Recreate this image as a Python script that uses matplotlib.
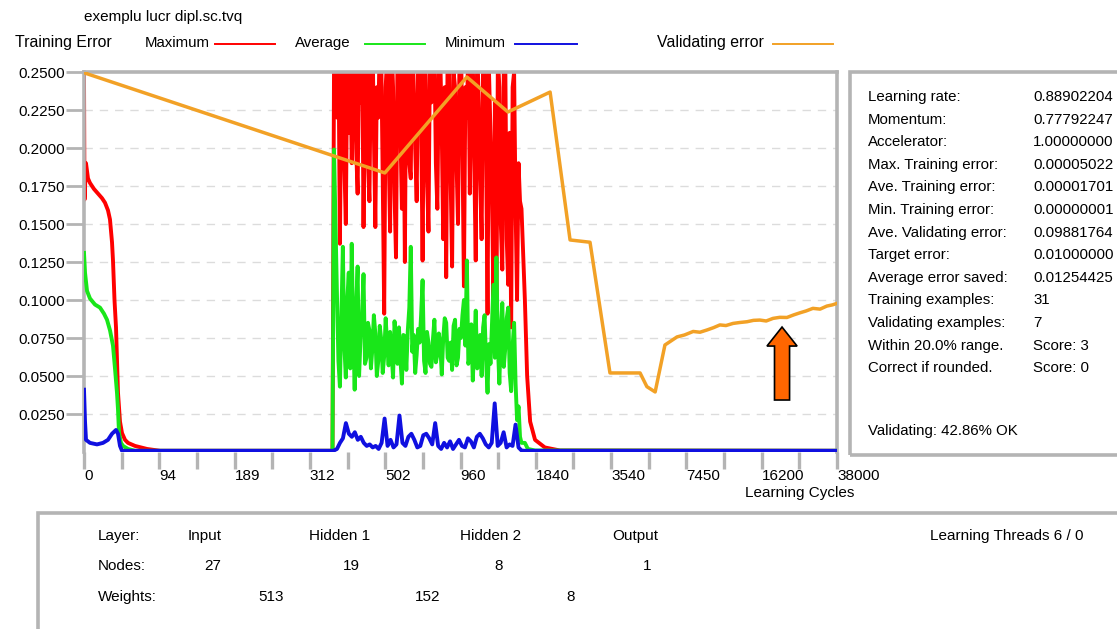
import numpy as np
import matplotlib
matplotlib.use("Agg")
import matplotlib.pyplot as plt
from matplotlib.lines import Line2D
from matplotlib.patches import Rectangle, FancyArrow

plt.rcParams['font.family'] = ['Liberation Sans', 'DejaVu Sans']

W, H = 1117, 629

# ---------------- data ----------------
x_tick_labels = ['0', '94', '189', '312', '502', '960', '1840', '3540', '7450', '16200', '38000']
y_tick_values = [0.025, 0.05, 0.075, 0.1, 0.125, 0.15, 0.175, 0.2, 0.225, 0.25]

# early phase (positions in axis tick units, 20 ticks across the axis)
max_early_x = [0, 0.013, 0.053, 0.08, 0.106, 0.159, 0.266, 0.372, 0.478, 0.558, 0.637, 0.69, 0.744, 0.77,
               0.81, 0.85, 0.876, 0.903, 0.956, 1.009, 1.089, 1.169, 1.355, 1.673, 2.02, 6.60]
max_early_y = [0.25, 0.166, 0.19, 0.185, 0.18, 0.177, 0.173, 0.170, 0.167, 0.164, 0.159, 0.153, 0.138, 0.126,
               0.10, 0.082, 0.06, 0.039, 0.02, 0.0125, 0.008, 0.006, 0.004, 0.002, 0.0008, 0.0008]
avg_early_x = [0, 0.027, 0.08, 0.159, 0.292, 0.425, 0.531, 0.611, 0.691, 0.77, 0.823, 0.876, 0.903, 0.93,
               0.983, 1.036, 1.169, 1.355, 6.60]
avg_early_y = [0.131, 0.118, 0.106, 0.101, 0.097, 0.095, 0.091, 0.087, 0.080, 0.070, 0.055, 0.039, 0.028,
               0.0125, 0.006, 0.004, 0.002, 0.0008, 0.0008]
min_early_x = [0, 0.027, 0.053, 0.159, 0.345, 0.505, 0.637, 0.744, 0.85, 0.903, 0.956, 1.009, 6.60]
min_early_y = [0.041, 0.02, 0.008, 0.006, 0.005, 0.006, 0.008, 0.012, 0.0145, 0.012, 0.004, 0.0008, 0.0008]

# unstable phase
max_noisy = [0.25, 0.28, 0.22, 0.27, 0.137, 0.24, 0.26, 0.19, 0.15, 0.26, 0.21, 0.27, 0.19, 0.24, 0.27, 0.20,
             0.17, 0.26, 0.23, 0.28, 0.148, 0.25, 0.27, 0.19, 0.165, 0.26, 0.28, 0.21, 0.148, 0.24, 0.22, 0.27,
             0.26, 0.18, 0.091, 0.24, 0.26, 0.20, 0.145, 0.27, 0.24, 0.17, 0.128, 0.26, 0.27, 0.21, 0.16, 0.25,
             0.125, 0.27, 0.26, 0.19, 0.18, 0.28, 0.24, 0.20, 0.165, 0.26, 0.27, 0.22, 0.126, 0.25, 0.25, 0.18,
             0.145, 0.26, 0.23, 0.27, 0.27, 0.19, 0.16, 0.25, 0.26, 0.21, 0.14, 0.24, 0.115, 0.27, 0.26, 0.18,
             0.122, 0.25, 0.24, 0.19, 0.15, 0.26, 0.27, 0.20, 0.109, 0.24, 0.22, 0.27, 0.17, 0.25, 0.26, 0.19,
             0.126, 0.27, 0.23, 0.18, 0.14, 0.26, 0.27, 0.20, 0.091, 0.25, 0.21, 0.17, 0.10, 0.23, 0.085, 0.26,
             0.24, 0.15, 0.12, 0.25, 0.26, 0.14, 0.11, 0.21, 0.082, 0.24, 0.25, 0.16, 0.10, 0.19, 0.165, 0.16]
avg_noisy = [0.199, 0.15, 0.104, 0.06, 0.043, 0.09, 0.135, 0.07, 0.049, 0.10, 0.118, 0.055, 0.137, 0.08,
             0.041, 0.095, 0.122, 0.05, 0.075, 0.09, 0.117, 0.058, 0.062, 0.085, 0.080, 0.055, 0.068, 0.090,
             0.078, 0.050, 0.060, 0.083, 0.074, 0.052, 0.063, 0.088, 0.071, 0.057, 0.079, 0.065, 0.049, 0.086,
             0.073, 0.058, 0.082, 0.061, 0.045, 0.077, 0.076, 0.054, 0.080, 0.095, 0.135, 0.066, 0.077, 0.052,
             0.064, 0.081, 0.072, 0.090, 0.113, 0.060, 0.052, 0.079, 0.072, 0.058, 0.056, 0.074, 0.087, 0.059,
             0.064, 0.078, 0.070, 0.051, 0.075, 0.088, 0.085, 0.062, 0.060, 0.072, 0.054, 0.083, 0.087, 0.057,
             0.062, 0.081, 0.075, 0.090, 0.100, 0.070, 0.126, 0.058, 0.063, 0.084, 0.047, 0.069, 0.093, 0.055,
             0.058, 0.077, 0.050, 0.082, 0.090, 0.060, 0.039, 0.071, 0.058, 0.085, 0.110, 0.062, 0.128, 0.070,
             0.045, 0.080, 0.098, 0.056, 0.068, 0.088, 0.095, 0.052, 0.040, 0.070, 0.085, 0.045, 0.021, 0.030,
             0.010, 0.006]
min_noisy = [0.001, 0.002, 0.006, 0.009, 0.019, 0.012, 0.010, 0.013, 0.008, 0.010, 0.006, 0.004, 0.005, 0.003,
             0.004, 0.002, 0.006, 0.022, 0.004, 0.008, 0.003, 0.005, 0.024, 0.006, 0.004, 0.010, 0.012, 0.008,
             0.003, 0.004, 0.011, 0.012, 0.009, 0.005, 0.019, 0.004, 0.002, 0.006, 0.003, 0.007, 0.002, 0.005,
             0.008, 0.004, 0.003, 0.009, 0.007, 0.003, 0.010, 0.012, 0.009, 0.005, 0.003, 0.006, 0.032, 0.004,
             0.006, 0.013, 0.003, 0.005, 0.004, 0.018, 0.003, 0.001]
noisy_start, noisy_end = 6.64, 11.62

# late phase
max_late_x = [11.71, 11.77, 11.85, 11.98, 12.24, 12.64, 20.0]
max_late_y = [0.10, 0.05, 0.02, 0.008, 0.003, 0.001, 0.0008]
avg_late_x = [11.71, 11.79, 11.98, 20.0]
avg_late_y = [0.006, 0.002, 0.001, 0.0008]
min_late_x = [11.70, 20.0]
min_late_y = [0.0008, 0.0008]

val_x = [0, 7.99, 10.17, 11.26, 12.38, 12.91, 13.44, 13.97, 14.77, 14.95, 15.17, 15.43, 15.75, 15.95, 16.18,
         16.36, 16.55, 16.72, 16.89, 17.05, 17.24, 17.42, 17.61, 17.78, 17.95, 18.12, 18.30, 18.48, 18.67,
         18.85, 19.02, 19.18, 19.36, 19.55, 19.73, 19.88, 20.0]
val_y = [0.2495, 0.1836, 0.2467, 0.2237, 0.2368, 0.1395, 0.138, 0.052, 0.052, 0.043, 0.0395, 0.0704, 0.0757,
         0.0770, 0.0793, 0.0788, 0.0803, 0.0818, 0.0836, 0.0832, 0.0846, 0.0852, 0.0857, 0.0866, 0.0868, 0.0862,
         0.0879, 0.0886, 0.0885, 0.0902, 0.0916, 0.0928, 0.0945, 0.0940, 0.0960, 0.0968, 0.0978]

info_labels = ['Learning rate:', 'Momentum:', 'Accelerator:', 'Max. Training error:', 'Ave. Training error:',
               'Min. Training error:', 'Ave. Validating error:', 'Target error:', 'Average error saved:',
               'Training examples:', 'Validating examples:', 'Within 20.0% range.', 'Correct if rounded.']
info_values = ['0.88902204', '0.77792247', '1.00000000', '0.00005022', '0.00001701', '0.00000001',
               '0.09881764', '0.01000000', '0.01254425', '31', '7', 'Score: 3', 'Score: 0']

layers = ['Input', 'Hidden 1', 'Hidden 2', 'Output']
nodes = ['27', '19', '8', '1']
weights = ['513', '152', '8']

RED, GREEN, BLUE, ORANGE = '#ff0000', '#19e619', '#1010e0', '#f2a126'
GREY = '#b4b4b4'

# ---------------- figure ----------------
fig = plt.figure(figsize=(W / 100, H / 100), dpi=100)


def fx(px):
    return px / W


def fy(py):
    return 1 - py / H


ax = fig.add_axes([fx(84), fy(452), fx(837) - fx(84), fy(72) - fy(452)])
ax.set_xlim(0, 20)
ax.set_ylim(0, 0.25)

for yv in y_tick_values[:-1]:
    ax.axhline(yv, color='#dcdcdc', lw=1.0, ls=(0, (6, 5)), zorder=0)

nx_big = np.linspace(noisy_start, noisy_end, len(max_noisy))
nx_small = np.linspace(noisy_start, noisy_end, len(min_noisy))
lw = 2.8
ax.plot(max_early_x + list(nx_big) + max_late_x, max_early_y + max_noisy + max_late_y, color=RED, lw=lw, zorder=2)
ax.plot(avg_early_x + list(nx_big) + avg_late_x, avg_early_y + avg_noisy + avg_late_y, color=GREEN, lw=lw, zorder=3)
ax.plot(min_early_x + list(nx_small) + min_late_x, min_early_y + min_noisy + min_late_y, color=BLUE, lw=lw, zorder=4)
ax.plot(val_x, val_y, color=ORANGE, lw=2.5, zorder=5)

arr = FancyArrow(18.54, 0.0342, 0, 0.0822 - 0.0342, width=0.40, head_width=0.80, head_length=0.0125,
                 length_includes_head=True, facecolor='#ff6600', edgecolor='black', lw=1.2, zorder=6)
ax.add_patch(arr)

for s in ax.spines.values():
    s.set_color(GREY)
    s.set_linewidth(2.6)
ax.spines['bottom'].set_visible(False)

fs = 11
ax.set_yticks(y_tick_values)
ax.set_yticklabels(['%.4f' % v for v in y_tick_values])
ax.tick_params(axis='y', length=13, width=2, color=GREY, labelsize=fs, pad=1)
ax.set_xticks(range(21))
labels = []
for i in range(21):
    labels.append(x_tick_labels[i // 2] if i % 2 == 0 else '')
ax.set_xticklabels(labels)
for t in ax.get_xticklabels():
    t.set_ha('left')
ax.tick_params(axis='x', length=12, width=2.4, color=GREY, labelsize=fs, pad=0.5)

fig.text(fx(745), fy(493), 'Learning Cycles', fontsize=fs, va='center', ha='left')

# header
fig.text(fx(84), fy(17), 'exemplu lucr dipl.sc.tvq', fontsize=fs, va='center')
fig.text(fx(15), fy(43), 'Training Error', fontsize=11.4, va='center')
leg = [('Maximum', 145, 215, 275, RED, 10.8), ('Average', 295, 365, 425, GREEN, 10.8),
       ('Minimum', 445, 515, 577, BLUE, 10.8), ('Validating error', 657, 773, 833, ORANGE, 11.4)]
for name, tx, l0, l1, c, lfs in leg:
    fig.text(fx(tx), fy(43), name, fontsize=lfs, va='center')
    fig.add_artist(Line2D([fx(l0), fx(l1)], [fy(44), fy(44)], color=c, lw=1.4))

# right info panel
fig.add_artist(Rectangle((fx(850), fy(455)), fx(1125) - fx(850), fy(72) - fy(455), fill=False,
                         edgecolor=GREY, lw=2.6))
pfs = 10.8
for i, (lab, val) in enumerate(zip(info_labels, info_values)):
    y = 97 + i * 22.6
    fig.text(fx(868), fy(y), lab, fontsize=pfs, va='center')
    fig.text(fx(1033), fy(y), val, fontsize=pfs, va='center')
fig.text(fx(868), fy(431), 'Validating: 42.86% OK', fontsize=pfs, va='center')

# bottom panel
fig.add_artist(Rectangle((fx(38), fy(640)), fx(1125) - fx(38), fy(513) - fy(640), fill=False,
                         edgecolor=GREY, lw=2.6))
bfs = 11
fig.text(fx(98), fy(536), 'Layer:', fontsize=bfs, va='center')
for name, px in zip(layers, [188, 309, 460, 612]):
    fig.text(fx(px), fy(536), name, fontsize=bfs, va='center')
fig.text(fx(930), fy(536), 'Learning Threads 6 / 0', fontsize=bfs, va='center')
fig.text(fx(98), fy(566), 'Nodes:', fontsize=bfs, va='center')
for n, px in zip(nodes, [204, 343, 494, 643]):
    fig.text(fx(px), fy(566), n, fontsize=bfs, va='center')
fig.text(fx(98), fy(597), 'Weights:', fontsize=bfs, va='center')
for w_, px in zip(weights, [258, 415, 566]):
    fig.text(fx(px), fy(597), w_, fontsize=bfs, va='center')

fig.savefig('out.png', dpi=100)
